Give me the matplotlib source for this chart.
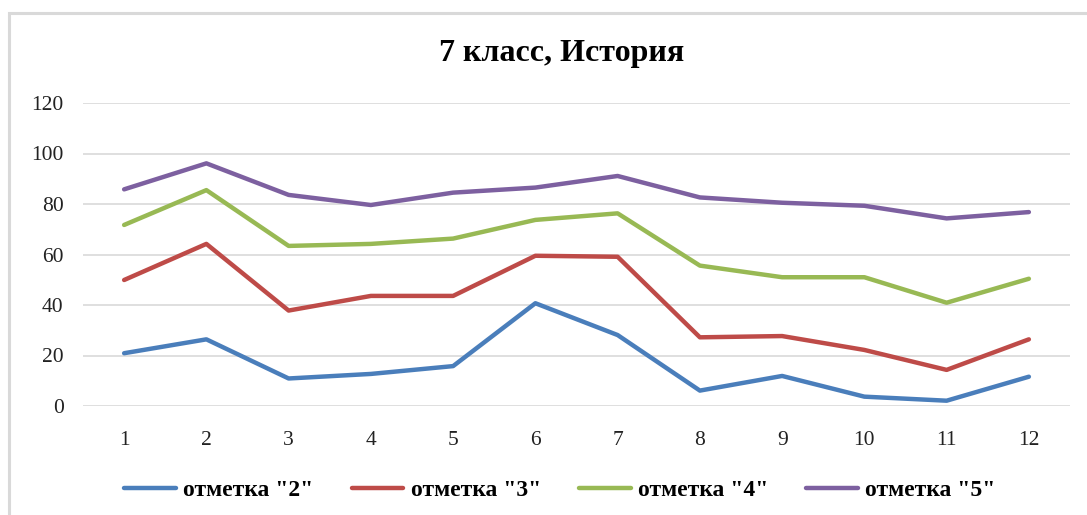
import matplotlib
matplotlib.use("Agg")
import matplotlib.pyplot as plt
from matplotlib.patches import Rectangle

categories = [1, 2, 3, 4, 5, 6, 7, 8, 9, 10, 11, 12]
mark2 = [20.9, 26.4, 10.9, 12.7, 15.8, 40.7, 28.1, 6.1, 11.9, 3.7, 2.1, 11.6]
mark3 = [49.9, 64.2, 37.8, 43.6, 43.6, 59.5, 59.1, 27.2, 27.7, 22.2, 14.3, 26.4]
mark4 = [71.7, 85.5, 63.4, 64.2, 66.3, 73.7, 76.3, 55.6, 51.0, 51.0, 40.9, 50.4]
mark5 = [85.8, 96.1, 83.6, 79.6, 84.5, 86.5, 91.1, 82.6, 80.5, 79.3, 74.3, 76.8]
series_labels = ['отметка "2"', 'отметка "3"', 'отметка "4"', 'отметка "5"']
title = "7 класс, История"
yticks = [0, 20, 40, 60, 80, 100, 120]

colors = ["#4a7ebb", "#be4b48", "#98b954", "#7d60a0"]

plt.rcParams['font.family'] = ['Liberation Serif', 'DejaVu Serif']

fig = plt.figure(figsize=(10.87, 5.15), dpi=100)
fig.patches.append(Rectangle((9 / 1087, -0.05), 1.2, 1 - 13 / 515 + 0.05,
                             transform=fig.transFigure, fill=False,
                             edgecolor="#d9d9d9", linewidth=2.2, zorder=0))

ax = fig.add_axes([83 / 1087, 1 - 406 / 515, (1070 - 83) / 1087, (406 - 103) / 515])
for vals, c, lab in zip([mark2, mark3, mark4, mark5], colors, series_labels):
    ax.plot(categories, vals, color=c, linewidth=3.2, label=lab,
            solid_capstyle='round', solid_joinstyle='round')

ax.set_xlim(0.5, 12.5)
ax.set_ylim(0, 120)
ax.set_yticks(yticks)
ax.set_xticks(categories)
ax.set_xticklabels([str(c) for c in categories])
ax.grid(axis='y', color="#d9d9d9", linewidth=1.2)
ax.set_axisbelow(True)
for s in ax.spines.values():
    s.set_visible(False)
ax.tick_params(axis='both', length=0, labelsize=15.5, colors="#222222")
ax.tick_params(axis='y', pad=14)
ax.tick_params(axis='x', pad=18)

fig.text(0.517, 1 - 53 / 515, title, ha='center', va='center',
         fontsize=23, fontweight='bold')

leg = fig.legend(loc='center', bbox_to_anchor=(0.515, 1 - 490 / 515), ncol=4,
                 frameon=False, handlelength=2.2, handletextpad=0.3,
                 columnspacing=1.6, prop={'size': 17, 'weight': 'bold'})

fig.savefig("out.png", dpi=100)
